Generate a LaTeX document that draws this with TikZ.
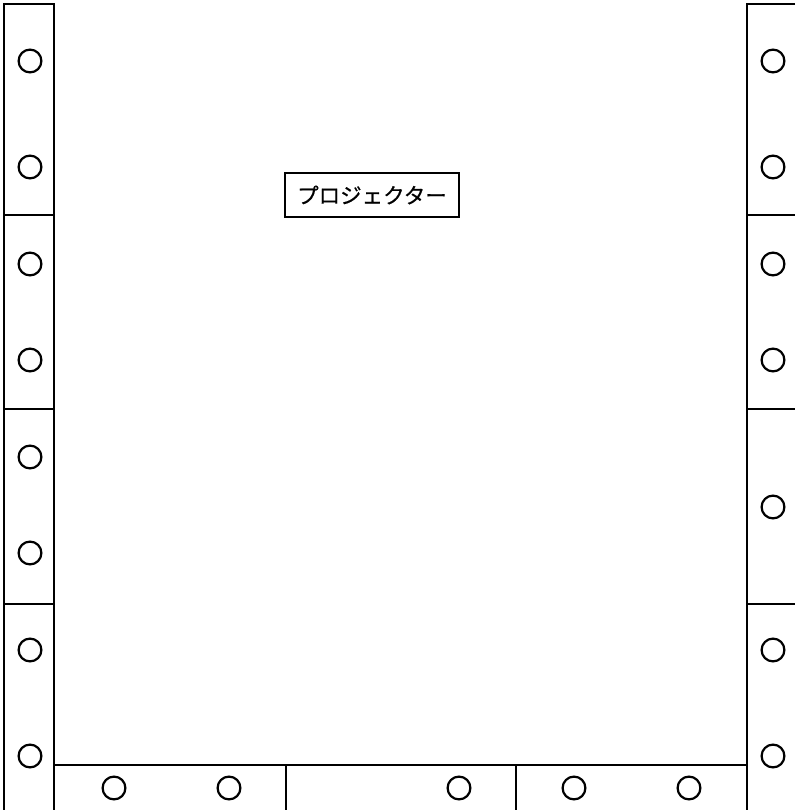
\documentclass[tikz,border=0pt]{standalone}
\usepackage{fontspec}
\newfontfamily\cjk[FakeBold=0.6]{Noto Sans CJK JP}
\tikzset{
  wall/.style={draw=black,line width=2pt},
  seat/.style={circle,draw=black,line width=2.2pt,minimum size=22.8pt,inner sep=0pt,outer sep=0pt},
  label box/.style={draw=black,line width=1.1pt,minimum width=174pt,minimum height=44pt,inner sep=0pt,font=\cjk\fontsize{21.5}{24}\selectfont}
}
\begin{document}
\begin{tikzpicture}[x=1pt,y=-1pt]
\useasboundingbox (0,0) rectangle (795,810);
% walls
\draw[wall] (4,810) -- (4,4) -- (54,4) -- (54,810);
\draw[wall] (795,4) -- (747,4) -- (747,810);
\foreach \y in {215,409,604} {
  \draw[wall] (4,\y) -- (54,\y);
  \draw[wall] (747,\y) -- (795,\y);
}
\draw[wall] (54,765) -- (747,765);
\draw[wall] (286,765) -- (286,810);
\draw[wall] (516,765) -- (516,810);
% seats
\foreach \y [count=\i] in {61,167,264,360,457,553,650,756}
  \node[seat] (l\i) at (30,\y) {};
\foreach \y [count=\i] in {61,167,264,360,507,650,756}
  \node[seat] (r\i) at (773,\y) {};
\foreach \x [count=\i] in {114,229,459,574,689}
  \node[seat] (b\i) at (\x,788) {};
% projector
\node[label box] (projector) at (372,195) {プロジェクター};
\end{tikzpicture}
\end{document}
